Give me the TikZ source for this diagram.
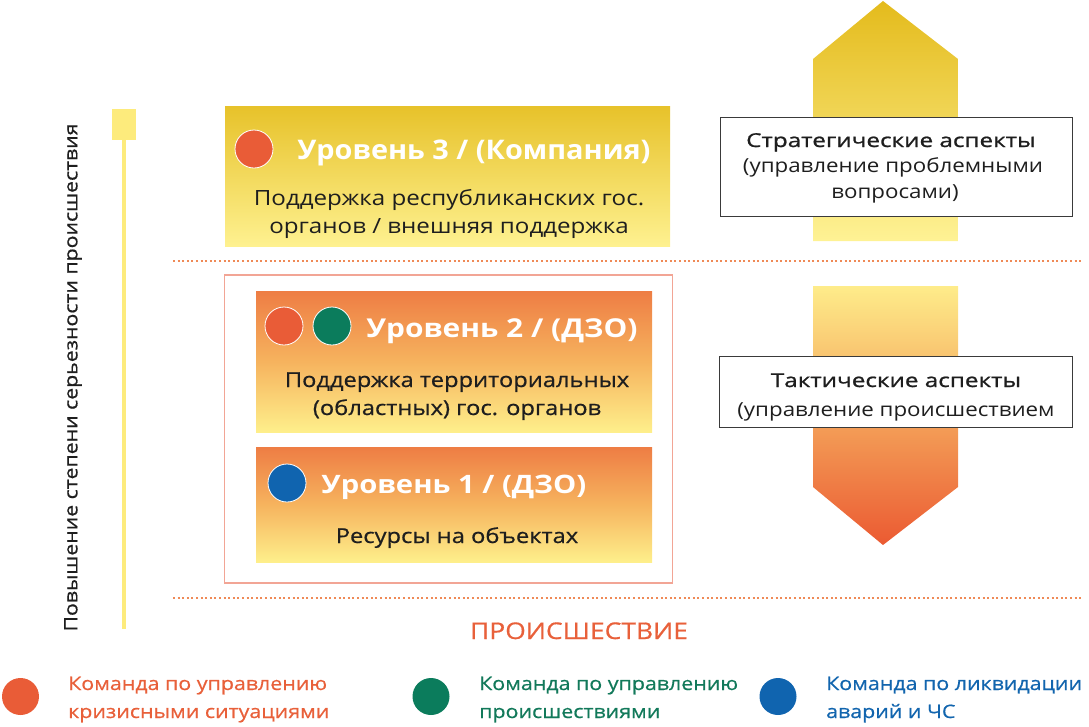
\documentclass[tikz,border=0pt]{standalone}
\usepackage{fontspec}
\setmainfont{Open Sans}
\newfontfamily\wfont[FakeStretch=1.15]{Open Sans}
\newfontfamily\wmfont[FakeStretch=1.15,FakeBold=0.6]{Open Sans}
\newfontfamily\wsfont[FakeStretch=1.27,FakeBold=1]{Open Sans}
\newfontfamily\tfont[FakeStretch=1.07]{Open Sans}
\definecolor{goldtop}{HTML}{E4BB1C}
\definecolor{goldbot}{HTML}{FEF295}
\definecolor{l3top}{HTML}{E7C22A}
\definecolor{l3bot}{HTML}{FEF190}
\definecolor{ortop}{HTML}{EE7D44}
\definecolor{ormid}{HTML}{F6B35E}
\definecolor{orbot}{HTML}{FEEF8B}
\definecolor{dntop}{HTML}{FEEC8A}
\definecolor{dnmid}{HTML}{F4A35A}
\definecolor{dnbot}{HTML}{EB5A32}
\definecolor{cred}{HTML}{E95C37}
\definecolor{cgreen}{HTML}{0B7C5C}
\definecolor{cblue}{HTML}{1064AF}
\definecolor{tred}{HTML}{E8603A}
\definecolor{tgreen}{HTML}{12795A}
\definecolor{tblue}{HTML}{1265AE}
\definecolor{dotcol}{HTML}{EF8A57}
\definecolor{outline}{HTML}{F2A595}
\definecolor{barcol}{HTML}{FDEB7C}
\definecolor{boxgray}{HTML}{3A3A3A}
\definecolor{txt}{HTML}{1E1E1E}
\tikzset{
  lvlcirc/.style={circle, inner sep=0pt, minimum size=38pt, draw=white, line width=0.8pt},
  legcirc/.style={circle, inner sep=0pt, minimum size=37pt},
  aspbox/.style={draw=boxgray, fill=white, line width=1pt, inner sep=0pt},
  dotline/.style={dotcol, line width=2pt, dash pattern=on 2pt off 2.6pt},
  bl/.style={anchor=base, inner sep=0pt},
  bll/.style={anchor=base west, inner sep=0pt},
  lvlbox/.style={rectangle, inner sep=0pt},
  legtext/.style={bll, font=\wmfont\fontsize{18.6}{21}\selectfont},
  asphead/.style={bl, font=\wsfont\fontsize{19.1}{21}\selectfont, text=txt},
  asptext/.style={bl, font=\wfont\fontsize{19.4}{21}\selectfont, text=txt},
  subtext/.style={bl, font=\wmfont\fontsize{20.6}{22}\selectfont, text=txt},
  lvltitle/.style={bl, font=\wfont\bfseries\fontsize{26}{28}\selectfont, text=white},
}
\begin{document}
\begin{tikzpicture}[x=1pt,y=-1pt]
\useasboundingbox (0,0) rectangle (1089,726);

% arrows on the right
\shade[top color=goldtop, bottom color=goldbot] (883,1) -- (958,59) -- (958,241) -- (813,241) -- (813,59) -- cycle;
\shade[top color=dntop, bottom color=dnbot, middle color=dnmid] (813,286) -- (958,286) -- (958,487) -- (883,545) -- (813,487) -- cycle;

% aspect boxes
\node[aspbox, minimum width=352pt, minimum height=99pt] (strat) at (896,166.5) {};
\node[asphead] (s1) at (891,147) {Стратегические аспекты};
\node[asptext] (s2) at (893,172.5) {(управление проблемными};
\node[asptext] (s3) at (895,198.5) {вопросами)};

\node[aspbox, minimum width=353pt, minimum height=71pt] (tact) at (896,391.5) {};
\node[asphead] (t1) at (896,387) {Тактические аспекты};
\node[asptext] (t2) at (896,416) {(управление происшествием};

% dotted separators
\coordinate (d1a) at (173,261);
\coordinate (d1b) at (1082,261);
\coordinate (d2a) at (173,598);
\coordinate (d2b) at (1082,598);
\draw[dotline] (d1a) -- (d1b);
\draw[dotline] (d2a) -- (d2b);

% level 3
\node[lvlbox, minimum width=445pt, minimum height=140pt, top color=l3top, bottom color=l3bot] (l3) at (447.5,176) {};
\node[lvlcirc, fill=cred] (c3) at (254,149) {};
\node[bl, font=\tfont\bfseries\fontsize{27}{29}\selectfont, text=white] (l3t) at (474,159) {Уровень 3 / (Компания)};
\node[bl, font=\wfont\fontsize{21}{23}\selectfont, text=txt] (l3s1) at (449,205) {Поддержка республиканских гос.};
\node[bl, font=\wfont\fontsize{21}{23}\selectfont, text=txt] (l3s2) at (449,233) {органов / внешняя поддержка};

% outer frame
\node[lvlbox, draw=outline, line width=1.2pt, minimum width=448pt, minimum height=308pt] (frame) at (448.5,429) {};

% level 2
\node[lvlbox, minimum width=396pt, minimum height=141pt, top color=ortop, bottom color=orbot, middle color=ormid] (l2) at (454,361.5) {};
\node[lvlcirc, fill=cred] (c2a) at (284,326) {};
\node[lvlcirc, fill=cgreen] (c2b) at (332,326) {};
\node[lvltitle] (l2t) at (502,337) {Уровень 2 / (ДЗО)};
\node[subtext] (l2s1) at (457,387) {Поддержка территориальных};
\node[subtext] (l2s2) at (457,415) {(областных) гос. органов};

% level 1
\node[lvlbox, minimum width=396pt, minimum height=115pt, top color=ortop, bottom color=orbot, middle color=ormid] (l1) at (454,504.5) {};
\node[lvlcirc, fill=cblue] (c1) at (287,483) {};
\node[lvltitle, font=\wfont\bfseries\fontsize{25.4}{28}\selectfont] (l1t) at (454,493) {Уровень 1 / (ДЗО)};
\node[subtext] (l1s) at (457,543) {Ресурсы на объектах};

% left scale bar
\node[lvlbox, fill=barcol, minimum width=24pt, minimum height=31pt] (sq) at (124,124.5) {};
\coordinate (barend) at (124,629);
\draw[barcol, line width=4pt] (sq.south) -- (barend);
\node[rotate=90, inner sep=0pt, font=\wmfont\fontsize{18.5}{20}\selectfont, text=txt] (sev) at (73,377.5) {Повышение степени серьезности происшествия};

% incident label
\node[bl, font=\wmfont\fontsize{23}{25}\selectfont, text=tred] (inc) at (579,639) {ПРОИСШЕСТВИЕ};

% legend
\node[legcirc, fill=cred] (lg1) at (20.5,696.5) {};
\node[legtext, text=tred] (lg1a) at (68,690) {Команда по управлению};
\node[legtext, text=tred] (lg1b) at (68,718) {кризисными ситуациями};
\node[legcirc, fill=cgreen] (lg2) at (431,696.5) {};
\node[legtext, text=tgreen] (lg2a) at (479,690) {Команда по управлению};
\node[legtext, text=tgreen] (lg2b) at (479,718) {происшествиями};
\node[legcirc, fill=cblue] (lg3) at (778,696.5) {};
\node[legtext, text=tblue] (lg3a) at (826,690) {Команда по ликвидации};
\node[legtext, text=tblue] (lg3b) at (826,718) {аварий и ЧС};
\end{tikzpicture}
\end{document}
